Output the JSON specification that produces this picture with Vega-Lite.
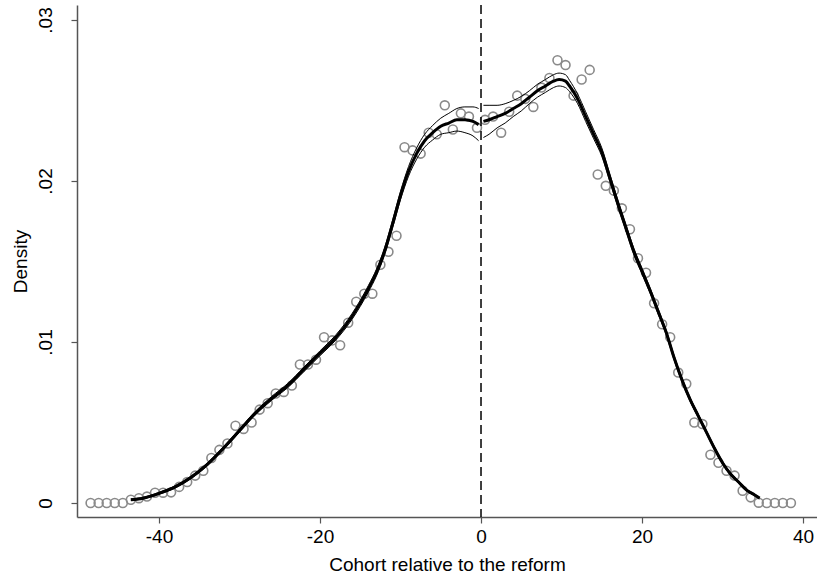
{
  "$schema": "https://vega.github.io/schema/vega-lite/v6.json",
  "width": 740,
  "height": 512,
  "autosize": {"type": "none"},
  "padding": {"left": 77, "top": 5, "right": 0, "bottom": 63},
  "background": "white",
  "config": {
    "view": {"stroke": null},
    "axis": {
      "grid": false,
      "domainColor": "#555555",
      "domainWidth": 1.5,
      "tickColor": "#555555",
      "tickWidth": 1.2,
      "tickSize": 6,
      "labelFont": "Liberation Sans",
      "titleFont": "Liberation Sans",
      "labelFontSize": 19,
      "titleFontSize": 19,
      "labelColor": "#000000",
      "titleColor": "#000000",
      "titleFontWeight": "normal"
    }
  },
  "datasets": {
    "pts": [
      {"c": -48.5, "d": 0}, {"c": -47.5, "d": 0}, {"c": -46.5, "d": 0}, {"c": -45.5, "d": 0}, {"c": -44.5, "d": 0},
      {"c": -43.5, "d": 0.0002}, {"c": -42.5, "d": 0.0003}, {"c": -41.5, "d": 0.0004}, {"c": -40.5, "d": 0.00064},
      {"c": -39.5, "d": 0.00064}, {"c": -38.5, "d": 0.00066}, {"c": -37.5, "d": 0.001}, {"c": -36.5, "d": 0.0013},
      {"c": -35.5, "d": 0.0017}, {"c": -34.5, "d": 0.002}, {"c": -33.5, "d": 0.0028}, {"c": -32.5, "d": 0.0033},
      {"c": -31.5, "d": 0.0037}, {"c": -30.5, "d": 0.0048}, {"c": -29.5, "d": 0.0046}, {"c": -28.5, "d": 0.005},
      {"c": -27.5, "d": 0.0058}, {"c": -26.5, "d": 0.0062}, {"c": -25.5, "d": 0.0068}, {"c": -24.5, "d": 0.0069},
      {"c": -23.5, "d": 0.0073}, {"c": -22.5, "d": 0.0086}, {"c": -21.5, "d": 0.0086}, {"c": -20.5, "d": 0.0089},
      {"c": -19.5, "d": 0.0103}, {"c": -18.5, "d": 0.0101}, {"c": -17.5, "d": 0.0098}, {"c": -16.5, "d": 0.0112},
      {"c": -15.5, "d": 0.0125}, {"c": -14.5, "d": 0.013}, {"c": -13.5, "d": 0.013}, {"c": -12.5, "d": 0.0148},
      {"c": -11.5, "d": 0.0156}, {"c": -10.5, "d": 0.0166}, {"c": -9.5, "d": 0.0221}, {"c": -8.5, "d": 0.0219},
      {"c": -7.5, "d": 0.0217}, {"c": -6.5, "d": 0.023}, {"c": -5.5, "d": 0.0229}, {"c": -4.5, "d": 0.0247},
      {"c": -3.5, "d": 0.0232}, {"c": -2.5, "d": 0.0242}, {"c": -1.5, "d": 0.024}, {"c": -0.5, "d": 0.0233},
      {"c": 0.5, "d": 0.0238}, {"c": 1.5, "d": 0.024}, {"c": 2.5, "d": 0.023}, {"c": 3.5, "d": 0.0243},
      {"c": 4.5, "d": 0.0253}, {"c": 5.5, "d": 0.0251}, {"c": 6.5, "d": 0.0246}, {"c": 7.5, "d": 0.0258},
      {"c": 8.5, "d": 0.0264}, {"c": 9.5, "d": 0.0275}, {"c": 10.5, "d": 0.0272}, {"c": 11.5, "d": 0.0253},
      {"c": 12.5, "d": 0.0263}, {"c": 13.5, "d": 0.0269}, {"c": 14.5, "d": 0.0204}, {"c": 15.5, "d": 0.0197},
      {"c": 16.5, "d": 0.0194}, {"c": 17.5, "d": 0.0183}, {"c": 18.5, "d": 0.017}, {"c": 19.5, "d": 0.0152},
      {"c": 20.5, "d": 0.0143}, {"c": 21.5, "d": 0.0124}, {"c": 22.5, "d": 0.0111}, {"c": 23.5, "d": 0.0103},
      {"c": 24.5, "d": 0.0081}, {"c": 25.5, "d": 0.0074}, {"c": 26.5, "d": 0.005}, {"c": 27.5, "d": 0.0049},
      {"c": 28.5, "d": 0.003}, {"c": 29.5, "d": 0.0025}, {"c": 30.5, "d": 0.002}, {"c": 31.5, "d": 0.0017},
      {"c": 32.5, "d": 0.00076}, {"c": 33.5, "d": 0.00035}, {"c": 34.5, "d": 0.00002}, {"c": 35.5, "d": 0},
      {"c": 36.5, "d": 0}, {"c": 37.5, "d": 0}, {"c": 38.5, "d": 0}
    ],
    "fit": [
      {"side": "L", "c": -43.5, "fit": 0.0002, "lo": 0.00015, "hi": 0.00025},
      {"side": "L", "c": -42, "fit": 0.0003, "lo": 0.00025, "hi": 0.00035},
      {"side": "L", "c": -40, "fit": 0.0006, "lo": 0.00054, "hi": 0.00066},
      {"side": "L", "c": -38, "fit": 0.001, "lo": 0.00093, "hi": 0.00107},
      {"side": "L", "c": -36, "fit": 0.0016, "lo": 0.00152, "hi": 0.00168},
      {"side": "L", "c": -34, "fit": 0.0024, "lo": 0.00231, "hi": 0.00249},
      {"side": "L", "c": -32, "fit": 0.0034, "lo": 0.0033, "hi": 0.0035},
      {"side": "L", "c": -30, "fit": 0.0045, "lo": 0.0044, "hi": 0.0046},
      {"side": "L", "c": -28, "fit": 0.0056, "lo": 0.00549, "hi": 0.00571},
      {"side": "L", "c": -26, "fit": 0.0065, "lo": 0.00638, "hi": 0.00662},
      {"side": "L", "c": -24, "fit": 0.0073, "lo": 0.00717, "hi": 0.00743},
      {"side": "L", "c": -22, "fit": 0.0083, "lo": 0.00816, "hi": 0.00844},
      {"side": "L", "c": -20, "fit": 0.0093, "lo": 0.00915, "hi": 0.00945},
      {"side": "L", "c": -18, "fit": 0.0103, "lo": 0.01014, "hi": 0.01046},
      {"side": "L", "c": -16, "fit": 0.0116, "lo": 0.01142, "hi": 0.01178},
      {"side": "L", "c": -14, "fit": 0.0133, "lo": 0.0131, "hi": 0.0135},
      {"side": "L", "c": -13, "fit": 0.0143, "lo": 0.01409, "hi": 0.01451},
      {"side": "L", "c": -12, "fit": 0.0156, "lo": 0.01538, "hi": 0.01582},
      {"side": "L", "c": -11, "fit": 0.0173, "lo": 0.01706, "hi": 0.01754},
      {"side": "L", "c": -10, "fit": 0.0191, "lo": 0.01884, "hi": 0.01936},
      {"side": "L", "c": -9, "fit": 0.0206, "lo": 0.0203, "hi": 0.0209},
      {"side": "L", "c": -8, "fit": 0.0217, "lo": 0.02135, "hi": 0.02205},
      {"side": "L", "c": -7, "fit": 0.0225, "lo": 0.0221, "hi": 0.0229},
      {"side": "L", "c": -6, "fit": 0.023, "lo": 0.02255, "hi": 0.02345},
      {"side": "L", "c": -5, "fit": 0.0234, "lo": 0.0229, "hi": 0.0239},
      {"side": "L", "c": -4, "fit": 0.0236, "lo": 0.023, "hi": 0.0242},
      {"side": "L", "c": -3, "fit": 0.0238, "lo": 0.0231, "hi": 0.0245},
      {"side": "L", "c": -2, "fit": 0.0238, "lo": 0.023, "hi": 0.0246},
      {"side": "L", "c": -1, "fit": 0.0237, "lo": 0.0228, "hi": 0.0246},
      {"side": "L", "c": -0.3, "fit": 0.0235, "lo": 0.0225, "hi": 0.0245},
      {"side": "R", "c": 0.3, "fit": 0.0237, "lo": 0.0227, "hi": 0.0247},
      {"side": "R", "c": 1, "fit": 0.0238, "lo": 0.0229, "hi": 0.0247},
      {"side": "R", "c": 2, "fit": 0.024, "lo": 0.0233, "hi": 0.0247},
      {"side": "R", "c": 3, "fit": 0.0242, "lo": 0.0236, "hi": 0.0248},
      {"side": "R", "c": 4, "fit": 0.0245, "lo": 0.024, "hi": 0.025},
      {"side": "R", "c": 5, "fit": 0.0248, "lo": 0.02435, "hi": 0.02525},
      {"side": "R", "c": 6, "fit": 0.0252, "lo": 0.0248, "hi": 0.0256},
      {"side": "R", "c": 7, "fit": 0.0256, "lo": 0.0252, "hi": 0.026},
      {"side": "R", "c": 8, "fit": 0.0259, "lo": 0.0255, "hi": 0.0263},
      {"side": "R", "c": 9, "fit": 0.0262, "lo": 0.0258, "hi": 0.0266},
      {"side": "R", "c": 9.7, "fit": 0.0263, "lo": 0.0259, "hi": 0.0267},
      {"side": "R", "c": 10.5, "fit": 0.0262, "lo": 0.0258, "hi": 0.0266},
      {"side": "R", "c": 11, "fit": 0.0259, "lo": 0.02555, "hi": 0.02625},
      {"side": "R", "c": 12, "fit": 0.0251, "lo": 0.0248, "hi": 0.0254},
      {"side": "R", "c": 13, "fit": 0.024, "lo": 0.0237, "hi": 0.0243},
      {"side": "R", "c": 14, "fit": 0.0229, "lo": 0.02262, "hi": 0.02318},
      {"side": "R", "c": 15, "fit": 0.0218, "lo": 0.02154, "hi": 0.02206},
      {"side": "R", "c": 16, "fit": 0.0202, "lo": 0.01996, "hi": 0.02044},
      {"side": "R", "c": 17, "fit": 0.0186, "lo": 0.01838, "hi": 0.01882},
      {"side": "R", "c": 18, "fit": 0.0171, "lo": 0.0169, "hi": 0.0173},
      {"side": "R", "c": 19, "fit": 0.0156, "lo": 0.0154, "hi": 0.0158},
      {"side": "R", "c": 20, "fit": 0.0144, "lo": 0.01422, "hi": 0.01458},
      {"side": "R", "c": 21, "fit": 0.0132, "lo": 0.01303, "hi": 0.01337},
      {"side": "R", "c": 22, "fit": 0.0119, "lo": 0.01174, "hi": 0.01206},
      {"side": "R", "c": 23, "fit": 0.0106, "lo": 0.01045, "hi": 0.01075},
      {"side": "R", "c": 24, "fit": 0.009, "lo": 0.00886, "hi": 0.00914},
      {"side": "R", "c": 25, "fit": 0.0076, "lo": 0.00747, "hi": 0.00773},
      {"side": "R", "c": 26, "fit": 0.0064, "lo": 0.00628, "hi": 0.00652},
      {"side": "R", "c": 27, "fit": 0.0054, "lo": 0.00529, "hi": 0.00551},
      {"side": "R", "c": 28, "fit": 0.0044, "lo": 0.0043, "hi": 0.0045},
      {"side": "R", "c": 29, "fit": 0.0034, "lo": 0.0033, "hi": 0.0035},
      {"side": "R", "c": 30, "fit": 0.0025, "lo": 0.00241, "hi": 0.00259},
      {"side": "R", "c": 31, "fit": 0.0018, "lo": 0.00172, "hi": 0.00188},
      {"side": "R", "c": 32, "fit": 0.0013, "lo": 0.00123, "hi": 0.00137},
      {"side": "R", "c": 33, "fit": 0.0008, "lo": 0.00074, "hi": 0.00086},
      {"side": "R", "c": 34, "fit": 0.0005, "lo": 0.00045, "hi": 0.00055},
      {"side": "R", "c": 34.6, "fit": 0.0003, "lo": 0.00025, "hi": 0.00035}
    ],
    "cut": [{"x": 0}]
  },
  "layer": [
    {
      "data": {"name": "pts"},
      "mark": {"type": "point", "shape": "circle", "filled": false, "size": 80, "strokeWidth": 1.6, "color": "#8a8a8a", "opacity": 1},
      "encoding": {
        "x": {
          "field": "c", "type": "quantitative",
          "scale": {"domain": [-50.19, 41.74], "nice": false, "zero": false},
          "axis": {
            "values": [-40, -20, 0, 20, 40],
            "labelExpr": "datum.value < 0 ? '-' + abs(datum.value) : '' + datum.value",
            "title": "Cohort relative to the reform", "labelPadding": 4, "titlePadding": 9, "labelFlush": false
          }
        },
        "y": {
          "field": "d", "type": "quantitative",
          "scale": {"domain": [-0.00087, 0.03093], "nice": false, "zero": false},
          "axis": {
            "values": [0, 0.01, 0.02, 0.03],
            "labelExpr": "datum.value == 0 ? '0' : replace(format(datum.value, '.2f'), '0.', '.')",
            "labelAngle": 270, "labelAlign": "center", "labelBaseline": "bottom",
            "labelPadding": 16, "title": "Density", "titlePadding": 6
          }
        }
      }
    },
    {
      "data": {"name": "fit"},
      "mark": {"type": "line", "color": "#000000", "strokeWidth": 1, "interpolate": "monotone"},
      "encoding": {"x": {"field": "c", "type": "quantitative"}, "y": {"field": "hi", "type": "quantitative"}, "detail": {"field": "side"}}
    },
    {
      "data": {"name": "fit"},
      "mark": {"type": "line", "color": "#000000", "strokeWidth": 1, "interpolate": "monotone"},
      "encoding": {"x": {"field": "c", "type": "quantitative"}, "y": {"field": "lo", "type": "quantitative"}, "detail": {"field": "side"}}
    },
    {
      "data": {"name": "fit"},
      "mark": {"type": "line", "color": "#000000", "strokeWidth": 3, "interpolate": "monotone"},
      "encoding": {"x": {"field": "c", "type": "quantitative"}, "y": {"field": "fit", "type": "quantitative"}, "detail": {"field": "side"}}
    },
    {
      "data": {"name": "cut"},
      "mark": {"type": "rule", "color": "#000000", "strokeWidth": 1.5, "strokeDash": [9, 5]},
      "encoding": {"x": {"field": "x", "type": "quantitative"}}
    }
  ]
}
